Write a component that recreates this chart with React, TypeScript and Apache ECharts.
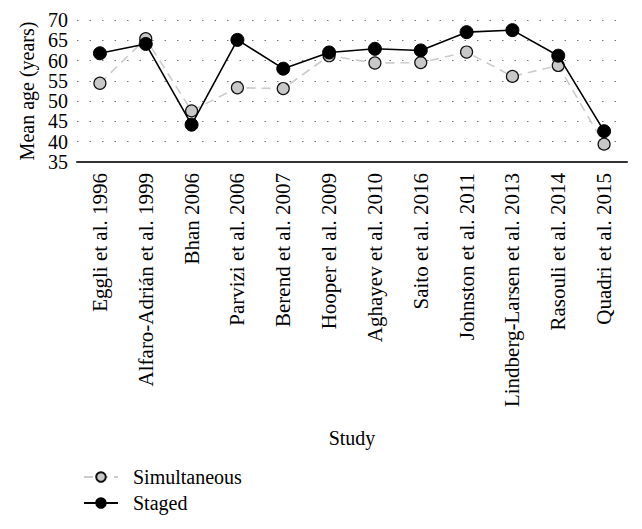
import React, { useEffect, useRef } from "react";
import * as echarts from "echarts";

const studies = [
  "Eggli et al. 1996",
  "Alfaro-Adrián et al. 1999",
  "Bhan 2006",
  "Parvizi et al. 2006",
  "Berend et al. 2007",
  "Hooper el al. 2009",
  "Aghayev et al. 2010",
  "Saito et al. 2016",
  "Johnston et al. 2011",
  "Lindberg-Larsen et al. 2013",
  "Rasouli et al. 2014",
  "Quadri et al. 2015",
];

const simultaneous = [54.4, 65.4, 47.6, 53.3, 53.1, 61.2, 59.4, 59.5, 62.1, 56.1, 58.8, 39.4];
const staged = [61.8, 64.1, 44.2, 65.1, 58.0, 62.0, 62.9, 62.5, 67.0, 67.5, 61.2, 42.6];

const yTicks = { min: 35, max: 70, interval: 5 };

const FONT = "'Liberation Serif', 'DejaVu Serif', serif";

export default function App() {
  const ref = useRef<HTMLDivElement>(null);
  useEffect(() => {
    if (!ref.current) return;
    const chart = echarts.init(ref.current, undefined, { renderer: "svg" });
    chart.setOption({
      animation: false,
      backgroundColor: "#ffffff",
      textStyle: { fontFamily: FONT, color: "#000" },
      grid: { left: 77, right: 15, top: 20, height: 142, containLabel: false },
      xAxis: {
        type: "category",
        data: studies,
        boundaryGap: true,
        name: "Study",
        nameLocation: "middle",
        nameGap: 266,
        nameTextStyle: { fontFamily: FONT, fontSize: 20, color: "#000" },
        axisLine: { show: true, lineStyle: { color: "#333", width: 2 } },
        axisTick: { show: false },
        axisLabel: {
          rotate: 90,
          interval: 0,
          fontFamily: FONT,
          fontSize: 21,
          color: "#000",
          margin: 11,
        },
        splitLine: { show: false },
      },
      yAxis: {
        type: "value",
        min: yTicks.min,
        max: yTicks.max,
        interval: yTicks.interval,
        name: "Mean age (years)",
        nameLocation: "middle",
        nameGap: 39,
        nameTextStyle: { fontFamily: FONT, fontSize: 20, color: "#000" },
        axisLine: { show: false },
        axisTick: { show: false },
        axisLabel: { fontFamily: FONT, fontSize: 20, color: "#000", margin: 9 },
        splitLine: {
          show: true,
          lineStyle: { color: "#777", width: 1.2, type: [1.5, 11] },
        },
      },
      legend: {
        orient: "vertical",
        left: 78,
        top: 462,
        itemWidth: 34,
        itemHeight: 12,
        itemGap: 6,
        textStyle: { fontFamily: FONT, fontSize: 20, color: "#000", padding: [0, 0, 0, 10] },
        data: ["Simultaneous", "Staged"],
      },
      series: [
        {
          name: "Simultaneous",
          type: "line",
          data: simultaneous,
          symbol: "circle",
          symbolSize: 12,
          lineStyle: { color: "#cccccc", width: 1.6, type: [9, 6] },
          itemStyle: { color: "#c8c8c8", borderColor: "#111", borderWidth: 1.2 },
          z: 2,
        },
        {
          name: "Staged",
          type: "line",
          data: staged,
          symbol: "circle",
          symbolSize: 13,
          lineStyle: { color: "#000", width: 1.6 },
          itemStyle: { color: "#000", borderColor: "#000", borderWidth: 1 },
          z: 3,
        },
      ],
    });
    return () => chart.dispose();
  }, []);
  return (
    <div
      ref={ref}
      style={{ position: "fixed", left: 0, top: 0, width: 642, height: 529, background: "#fff" }}
    />
  );
}
